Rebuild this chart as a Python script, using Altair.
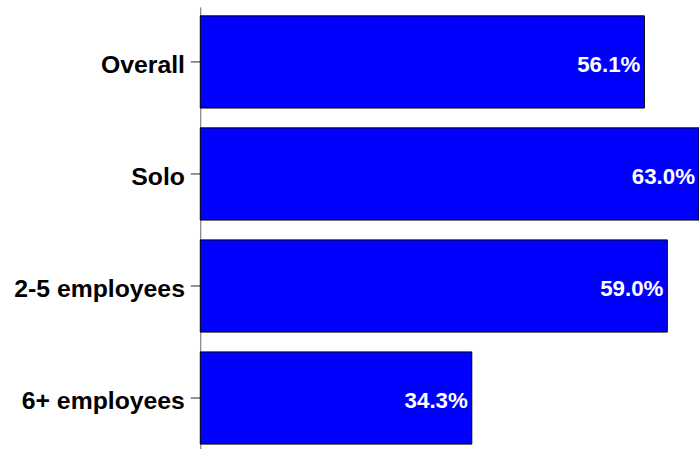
import altair as alt
import pandas as pd

categories = ["Overall", "Solo", "2-5 employees", "6+ employees"]
values = [56.1, 63.0, 59.0, 34.3]
labels = ["56.1%", "63.0%", "59.0%", "34.3%"]

df = pd.DataFrame({"cat": categories, "val": values, "lab": labels})

y = alt.Y("cat:N", sort=categories, title=None,
          scale=alt.Scale(paddingInner=0.177, paddingOuter=0.08),
          axis=alt.Axis(labelFont="Liberation Sans", labelFontWeight="bold",
                        labelFontSize=25, labelColor="black", labelPadding=6,
                        labelOffset=3,
                        tickSize=10, tickColor="#222", domainColor="#666",
                        tickWidth=1, domainWidth=1))
x = alt.X("val:Q", title=None, scale=alt.Scale(domain=[0, 63], nice=False, zero=True),
          axis=None)

bars = alt.Chart(df).mark_bar(color="#0000FF", stroke="black", strokeWidth=1).encode(x=x, y=y)
text = alt.Chart(df).mark_text(align="right", baseline="middle", dx=-4, dy=3,
                               color="white", font="Liberation Sans",
                               fontWeight="bold", fontSize=22.5).encode(x=x, y=y, text="lab:N")

chart = (bars + text).properties(
    width=503, height=450,
    autosize=alt.AutoSizeParams(type="none"),
    padding={"left": 202, "top": 5, "right": 0, "bottom": 0},
).configure_view(stroke=None)

chart.save("out.html", embed_options={"renderer": "svg", "actions": False})
